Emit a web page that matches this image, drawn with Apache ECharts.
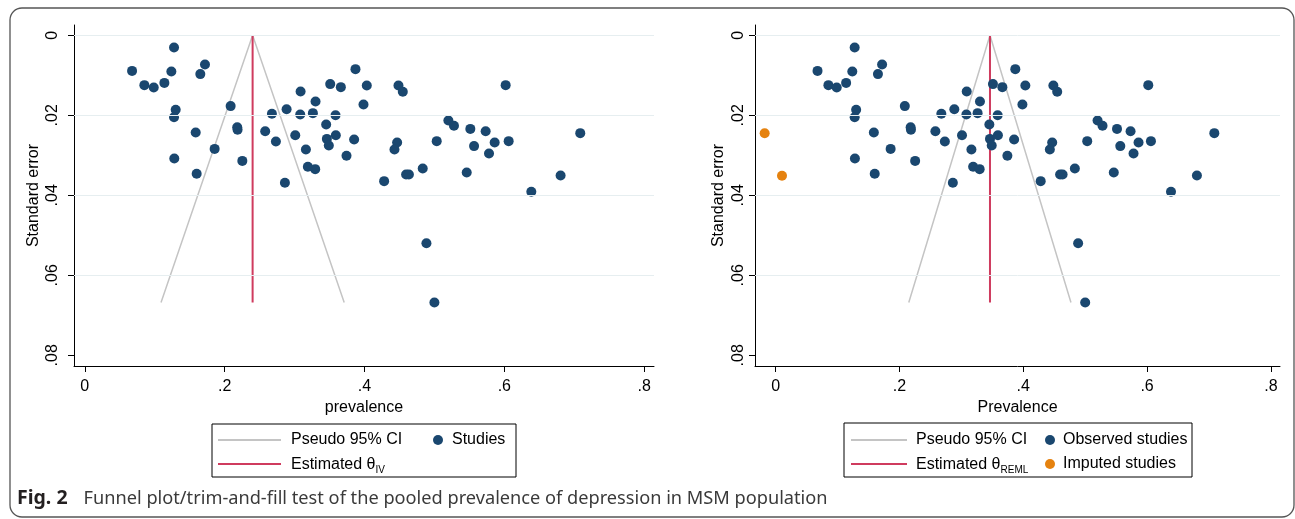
<!DOCTYPE html>
<html>
<head>
<meta charset="utf-8">
<script src="https://cdn.jsdelivr.net/npm/echarts@6/dist/echarts.min.js"></script>
<style>
html,body{margin:0;padding:0;background:#fff;}
#chart{width:1295px;height:519px;}
</style>
</head>
<body>
<div id="chart"></div>
<script>
// ---- data ----
const studyPrev = [0.1276,0.0676,0.1238,0.1719,0.1652,0.0852,0.0986,0.1138,0.130,0.1276,
  0.2086,0.1586,0.218,0.2185,0.1857,0.128,0.2253,0.160,0.258,0.2676,
  0.2886,0.3086,0.3081,0.3262,0.330,0.351,0.3662,0.3871,0.4033,0.3986,
  0.3586,0.3452,0.301,0.2733,0.3462,0.359,0.349,0.3852,0.3162,0.3743,
  0.319,0.3295,0.2862,0.4486,0.4548,0.6019,0.520,0.528,0.5514,0.5733,
  0.4467,0.4429,0.5033,0.5567,0.5862,0.6062,0.5781,0.7086,0.4281,0.4595,
  0.4635,0.4833,0.5462,0.6805,0.6386,0.4886,0.500];
const studySE = [0.00305,0.0089,0.00904,0.0073,0.0097,0.01246,0.01304,0.0119,0.0186,0.0205,
  0.0177,0.0243,0.0230,0.0236,0.0284,0.0308,0.0314,0.0346,0.0240,0.0196,
  0.0185,0.01404,0.0198,0.01946,0.01654,0.0122,0.01296,0.00846,0.01254,0.0173,
  0.0200,0.0223,0.0250,0.02654,0.0259,0.0250,0.02754,0.02604,0.02854,0.0301,
  0.03288,0.03346,0.03688,0.01254,0.0141,0.01246,0.0213,0.0226,0.0234,0.0240,
  0.0268,0.02854,0.02646,0.0277,0.0268,0.02646,0.02954,0.02446,0.03646,0.0348,
  0.0348,0.0333,0.0343,0.03504,0.0391,0.0520,0.0668];
const imputedPrev = [-0.0178, 0.0102];
const imputedSE = [0.0245, 0.0351];

const leftFunnelPrev = [0.109, 0.240, 0.371];
const leftFunnelSE = [0.0668, 0, 0.0668];
const leftEstPrev = [0.240, 0.240];
const leftEstSE = [0, 0.0668];
const rightFunnelPrev = [0.215, 0.3462, 0.477];
const rightFunnelSE = [0.0668, 0, 0.0668];
const rightEstPrev = [0.3462, 0.3462];
const rightEstSE = [0, 0.0668];

const xTicks = [0, 0.2, 0.4, 0.6, 0.8];
const xTickLabels = ['0', '.2', '.4', '.6', '.8'];
const yTicks = [0, 0.02, 0.04, 0.06, 0.08];
const yTickLabels = ['0', '.02', '.04', '.06', '.08'];
const yGridValues = [0, 0.02, 0.04, 0.06];

// ---- build ----
const pairs = (xs, ys) => xs.map((x, i) => [x, ys[i]]);
const FONT = 'Liberation Sans, Arial, sans-serif';
const NAVY = '#1a476f', ORANGE = '#e5820f', RED = '#cf3b5e', GREY = '#c4c4c4';

function fmt(ticks, labels) {
  return v => {
    const i = ticks.findIndex(t => Math.abs(t - v) < 1e-9);
    return i >= 0 ? labels[i] : '';
  };
}
function xAxis(idx, min, max, name) {
  return {
    type: 'value', gridIndex: idx, min, max, name,
    nameLocation: 'middle', nameGap: 33,
    nameTextStyle: { fontFamily: FONT, fontSize: 16, color: '#000' },
    axisLine: { show: true, onZero: false, lineStyle: { color: '#000', width: 1 } },
    axisTick: { show: true, inside: false, length: 6, customValues: xTicks, lineStyle: { color: '#000' } },
    axisLabel: { customValues: xTicks, formatter: fmt(xTicks, xTickLabels), margin: 13,
      fontFamily: FONT, fontSize: 16, color: '#000' },
    splitLine: { show: false }
  };
}
function yAxis(idx, margin, gap) {
  return {
    type: 'value', gridIndex: idx, inverse: true, min: -0.002575, max: 0.082675,
    name: 'Standard error', nameLocation: 'middle', nameGap: gap,
    nameTextStyle: { fontFamily: FONT, fontSize: 16, color: '#000' },
    axisLine: { show: true, onZero: false, lineStyle: { color: '#000', width: 1 } },
    axisTick: { show: true, inside: false, length: 6, customValues: yTicks, lineStyle: { color: '#000' } },
    axisLabel: { customValues: yTicks, formatter: fmt(yTicks, yTickLabels), rotate: 90, margin: margin,
      fontFamily: FONT, fontSize: 16, color: '#000' },
    splitLine: { show: false }
  };
}
function gridMarkLine() {
  return {
    silent: true, symbol: 'none', label: { show: false },
    lineStyle: { color: '#e6eef0', width: 1, type: 'solid' },
    data: yGridValues.map(v => ({ yAxis: v }))
  };
}
function lineSeries(name, idx, xs, ys, color, width, z) {
  return {
    name, type: 'line', xAxisIndex: idx, yAxisIndex: idx, data: pairs(xs, ys),
    symbol: 'none', lineStyle: { color, width }, itemStyle: { color }, z: z, animation: false
  };
}
const sub = name => {
  const m = name.match(/^(Estimated θ)(.+)$/);
  return m ? '{t|' + m[1] + '}{s|' + m[2] + '}' : name;
};
const richText = {
  t: { fontFamily: FONT, fontSize: 16, color: '#000', verticalAlign: 'bottom', lineHeight: 18 },
  s: { fontFamily: FONT, fontSize: 10, color: '#000', verticalAlign: 'bottom', lineHeight: 18, padding: [0, 0, -2, 0] }
};
function legend(left, top, names, icon, iw, ih, pad) {
  return {
    left, top, orient: 'vertical', itemGap: 6, itemWidth: iw, itemHeight: ih, icon,
    selectedMode: false, padding: 0,
    data: names,
    formatter: sub,
    textStyle: { fontFamily: FONT, fontSize: 16, color: '#000', lineHeight: 18, padding: [0, 0, 0, pad], rich: richText }
  };
}

const option = {
  animation: false,
  backgroundColor: '#fff',
  title: {
    left: 17, top: 488, padding: 0,
    text: '{b|Fig. 2}{n|Funnel plot/trim-and-fill test of the pooled prevalence of depression in MSM population}',
    textStyle: { fontWeight: 'normal', rich: {
      b: { fontFamily: 'Noto Sans', fontWeight: 'bold', fontSize: 19.5, color: '#231f20', padding: [0, 16, 0, 0], verticalAlign: 'bottom' },
      n: { fontFamily: 'Noto Sans', fontWeight: 'normal', fontSize: 18.2, color: '#3a3a3a', verticalAlign: 'bottom' }
    } }
  },
  grid: [
    { left: 74, top: 25, width: 580, height: 341 },
    { left: 755, top: 25, width: 525, height: 341 }
  ],
  xAxis: [xAxis(0, -0.01545, 0.81407, 'prevalence'), xAxis(1, -0.0334, 0.8147, 'Prevalence')],
  yAxis: [yAxis(0, 13, 32), yAxis(1, 8, 28)],
  legend: [
    legend(218, 431, ['Pseudo 95% CI', 'Estimated θIV'], 'rect', 63, 2, 5),
    legend(433, 431, ['Studies'], 'circle', 10, 10, 4),
    legend(851, 431, [{ name: 'Pseudo 95% CI' }, { name: 'Estimated θREML' }], 'rect', 56, 2, 4),
    legend(1045, 431, ['Observed studies', 'Imputed studies'], 'circle', 10, 10, 3)
  ],
  graphic: [
    { type: 'rect', shape: { x: 10, y: 8, width: 1284, height: 509, r: 12 }, style: { fill: 'none', stroke: '#555', lineWidth: 1.3 }, z: -1 },
    { type: 'rect', shape: { x: 212, y: 424, width: 304, height: 53 }, style: { fill: 'none', stroke: '#000', lineWidth: 1 } },
    { type: 'rect', shape: { x: 844, y: 423, width: 348, height: 54 }, style: { fill: 'none', stroke: '#000', lineWidth: 1 } }
  ],
  series: [
    { name: 'grid-left', type: 'scatter', xAxisIndex: 0, yAxisIndex: 0, data: [], markLine: gridMarkLine(), z: 1 },
    { name: 'grid-right', type: 'scatter', xAxisIndex: 1, yAxisIndex: 1, data: [], markLine: gridMarkLine(), z: 1 },
    lineSeries('Pseudo 95% CI', 0, leftFunnelPrev, leftFunnelSE, GREY, 1.5, 2),
    lineSeries('Estimated θIV', 0, leftEstPrev, leftEstSE, RED, 2, 3),
    { name: 'Studies', type: 'scatter', xAxisIndex: 0, yAxisIndex: 0, data: pairs(studyPrev, studySE),
      symbol: 'circle', symbolSize: 10, itemStyle: { color: NAVY, opacity: 1 }, z: 4 },
    lineSeries('Pseudo 95% CI', 1, rightFunnelPrev, rightFunnelSE, GREY, 1.5, 2),
    lineSeries('Estimated θREML', 1, rightEstPrev, rightEstSE, RED, 2, 3),
    { name: 'Observed studies', type: 'scatter', xAxisIndex: 1, yAxisIndex: 1, data: pairs(studyPrev, studySE),
      symbol: 'circle', symbolSize: 10, itemStyle: { color: NAVY, opacity: 1 }, z: 4 },
    { name: 'Imputed studies', type: 'scatter', xAxisIndex: 1, yAxisIndex: 1, data: pairs(imputedPrev, imputedSE),
      symbol: 'circle', symbolSize: 10, itemStyle: { color: ORANGE, opacity: 1 }, z: 4 }
  ]
};
const chart = echarts.init(document.getElementById('chart'), null, { renderer: 'canvas' });
chart.setOption(option);
</script>
</body>
</html>
